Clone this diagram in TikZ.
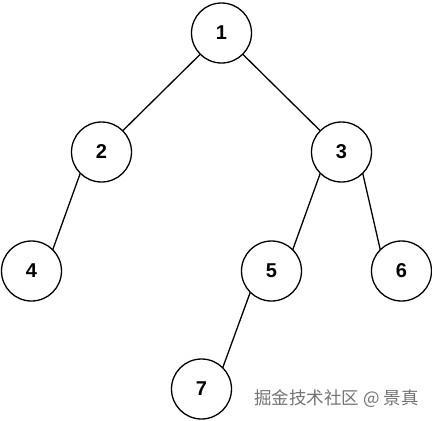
\documentclass[tikz,border=0pt]{standalone}
\usepackage{fontspec}
\setmainfont{Liberation Sans}
\newfontfamily\cjk{Noto Sans CJK SC}
\begin{document}
\begin{tikzpicture}[x=1pt,y=-1pt,
  tnode/.style={circle,draw,line width=1.3pt,minimum size=60pt,inner sep=0pt,outer sep=0pt,font=\fontsize{20}{20}\selectfont\bfseries},
  tedge/.style={line width=1.3pt}]
\useasboundingbox (0,0) rectangle (432,421);
\node[tnode] (n1) at (221.5,33) {1};
\node[tnode] (n2) at (101.5,152) {2};
\node[tnode] (n3) at (341.5,152) {3};
\node[tnode] (n4) at (31.5,271) {4};
\node[tnode] (n5) at (271.5,271) {5};
\node[tnode] (n6) at (401.5,271) {6};
\node[tnode] (n7) at (201.5,389) {7};
\draw[tedge] (n1.south west) -- (n2.north east);
\draw[tedge] (n1.south east) -- (n3.north west);
\draw[tedge] (n2.south west) -- (n4.north east);
\draw[tedge] (n3.south west) -- (n5.north east);
\draw[tedge] (n3.south east) -- (n6.north west);
\draw[tedge] (n5.south west) -- (n7.north east);
\node[text=black!55,font=\cjk\fontsize{17.5}{17.5}\selectfont,anchor=base west,inner sep=0pt] (wm) at (254,404) {掘金技术社区 @ 景真};
\end{tikzpicture}
\end{document}
